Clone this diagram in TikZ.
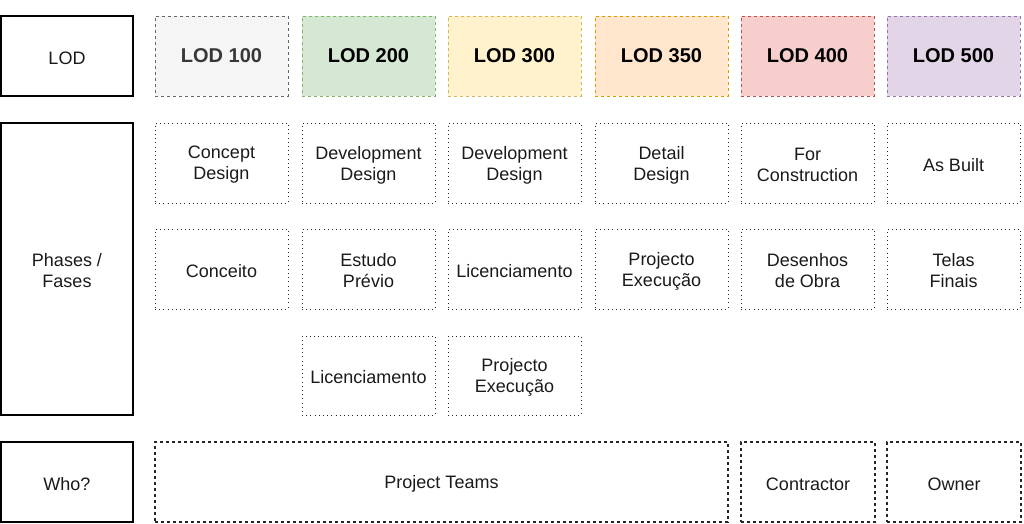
\documentclass[tikz,border=0pt]{standalone}
\usepackage{fontspec}
\setmainfont{Liberation Sans}
\definecolor{g1f}{HTML}{F5F5F5}\definecolor{g1d}{HTML}{666666}
\definecolor{g2f}{HTML}{D5E8D4}\definecolor{g2d}{HTML}{82B366}
\definecolor{g3f}{HTML}{FFF2CC}\definecolor{g3d}{HTML}{D6B656}
\definecolor{g4f}{HTML}{FFE6CC}\definecolor{g4d}{HTML}{D79B00}
\definecolor{g5f}{HTML}{F8CECC}\definecolor{g5d}{HTML}{B85450}
\definecolor{g6f}{HTML}{E1D5E7}\definecolor{g6d}{HTML}{9673A6}
\definecolor{txt}{HTML}{1A1A1A}
\tikzset{
  box/.style={rectangle, inner sep=0pt},
  lbl/.style={align=center, text=txt, inner sep=0pt, yshift=-2pt,
    font=\fontsize{18}{21}\selectfont},
  lodlbl/.style={align=center, inner sep=0pt, yshift=0.5pt,
    font=\fontsize{20}{24}\selectfont\bfseries, text=black},
  solidbox/.style={box, draw=black, line width=1.4pt},
  lodbox/.style={box, line width=1pt, dash pattern=on 3pt off 3pt},
  dotbox/.style={box, draw=black!85, line width=1pt, dash pattern=on 1pt off 3.2pt},
  dashbox/.style={box, draw=black!85, line width=1.2pt, dash pattern=on 3.2pt off 2.8pt},
}
\begin{document}
\begin{tikzpicture}[x=1pt,y=-1pt]
\useasboundingbox (0,0) rectangle (1024,523);
% helper: node by corners, text as centred label
\newcommand{\bx}[8]{\node[#1, minimum width=#4-#2, minimum height=#5-#3,
  label={[#7]center:#8}] (#6) at ({(#2+#4)/2},{(#3+#5)/2}) {};}
% left column
\bx{solidbox}{1}{16}{133}{96}{lod}{lbl}{LOD}
\bx{solidbox}{1}{123}{133}{415}{phases}{lbl}{Phases /\\Fases}
\bx{solidbox}{1}{442}{133}{522}{who}{lbl}{Who?}
% LOD row
\bx{lodbox, fill=g1f, draw=g1d}{155}{16}{288}{96}{l100}{lodlbl, text=black!78}{LOD 100}
\bx{lodbox, fill=g2f, draw=g2d}{302}{16}{435}{96}{l200}{lodlbl}{LOD 200}
\bx{lodbox, fill=g3f, draw=g3d}{448}{16}{581}{96}{l300}{lodlbl}{LOD 300}
\bx{lodbox, fill=g4f, draw=g4d}{595}{16}{728}{96}{l350}{lodlbl}{LOD 350}
\bx{lodbox, fill=g5f, draw=g5d}{741}{16}{874}{96}{l400}{lodlbl}{LOD 400}
\bx{lodbox, fill=g6f, draw=g6d}{887}{16}{1020}{96}{l500}{lodlbl}{LOD 500}
% phases row 1
\bx{dotbox}{155}{123}{288}{203}{p11}{lbl}{Concept\\Design}
\bx{dotbox}{302}{123}{435}{203}{p12}{lbl}{Development\\Design}
\bx{dotbox}{448}{123}{581}{203}{p13}{lbl}{Development\\Design}
\bx{dotbox}{595}{123}{728}{203}{p14}{lbl}{Detail\\Design}
\bx{dotbox}{741}{123}{874}{203}{p15}{lbl}{For\\Construction}
\bx{dotbox}{887}{123}{1020}{203}{p16}{lbl}{As Built}
% phases row 2
\bx{dotbox}{155}{229}{288}{309}{p21}{lbl}{Conceito}
\bx{dotbox}{302}{229}{435}{309}{p22}{lbl}{Estudo\\Prévio}
\bx{dotbox}{448}{229}{581}{309}{p23}{lbl}{Licenciamento}
\bx{dotbox}{595}{229}{728}{309}{p24}{lbl}{Projecto\\Execução}
\bx{dotbox}{741}{229}{874}{309}{p25}{lbl}{Desenhos\\de Obra}
\bx{dotbox}{887}{229}{1020}{309}{p26}{lbl}{Telas\\Finais}
% phases row 3
\bx{dotbox}{302}{336}{435}{415}{p32}{lbl}{Licenciamento}
\bx{dotbox}{448}{336}{581}{415}{p33}{lbl}{Projecto\\Execução}
% who row
\bx{dashbox}{155}{442}{728}{522}{teams}{lbl}{Project Teams}
\bx{dashbox}{741}{442}{875}{522}{contr}{lbl}{Contractor}
\bx{dashbox}{887}{442}{1021}{522}{owner}{lbl}{Owner}
\end{tikzpicture}
\end{document}
